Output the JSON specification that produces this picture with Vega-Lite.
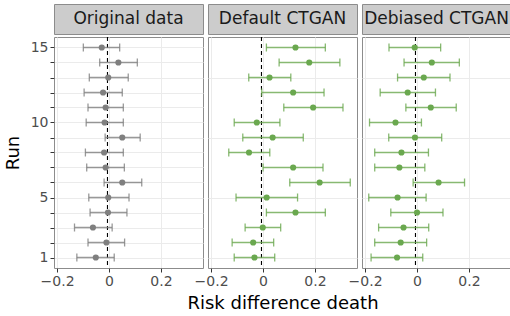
{
  "$schema": "https://vega.github.io/schema/vega-lite/v6.json",
  "padding": {"left": 3, "top": 3, "right": 0, "bottom": 0},
  "background": "white",
  "datasets": {
    "est": [
      {"p": "Original data", "run": 15, "est": -0.028, "lo": -0.099, "hi": 0.041},
      {"p": "Original data", "run": 14, "est": 0.036, "lo": -0.036, "hi": 0.109},
      {"p": "Original data", "run": 13, "est": -0.003, "lo": -0.076, "hi": 0.074},
      {"p": "Original data", "run": 12, "est": -0.023, "lo": -0.096, "hi": 0.051},
      {"p": "Original data", "run": 11, "est": -0.013, "lo": -0.081, "hi": 0.055},
      {"p": "Original data", "run": 10, "est": -0.017, "lo": -0.088, "hi": 0.055},
      {"p": "Original data", "run": 9, "est": 0.051, "lo": -0.015, "hi": 0.120},
      {"p": "Original data", "run": 8, "est": -0.019, "lo": -0.091, "hi": 0.055},
      {"p": "Original data", "run": 7, "est": -0.013, "lo": -0.086, "hi": 0.059},
      {"p": "Original data", "run": 6, "est": 0.051, "lo": -0.019, "hi": 0.126},
      {"p": "Original data", "run": 5, "est": -0.003, "lo": -0.078, "hi": 0.077},
      {"p": "Original data", "run": 4, "est": -0.004, "lo": -0.073, "hi": 0.069},
      {"p": "Original data", "run": 3, "est": -0.062, "lo": -0.133, "hi": 0.012},
      {"p": "Original data", "run": 2, "est": -0.010, "lo": -0.081, "hi": 0.060},
      {"p": "Original data", "run": 1, "est": -0.051, "lo": -0.124, "hi": 0.020},
      {"p": "Default CTGAN", "run": 15, "est": 0.125, "lo": 0.013, "hi": 0.240},
      {"p": "Default CTGAN", "run": 14, "est": 0.178, "lo": 0.062, "hi": 0.296},
      {"p": "Default CTGAN", "run": 13, "est": 0.025, "lo": -0.055, "hi": 0.107},
      {"p": "Default CTGAN", "run": 12, "est": 0.116, "lo": -0.005, "hi": 0.235},
      {"p": "Default CTGAN", "run": 11, "est": 0.193, "lo": 0.080, "hi": 0.308},
      {"p": "Default CTGAN", "run": 10, "est": -0.024, "lo": -0.111, "hi": 0.065},
      {"p": "Default CTGAN", "run": 9, "est": 0.037, "lo": -0.078, "hi": 0.155},
      {"p": "Default CTGAN", "run": 8, "est": -0.054, "lo": -0.132, "hi": 0.026},
      {"p": "Default CTGAN", "run": 7, "est": 0.116, "lo": 0.000, "hi": 0.231},
      {"p": "Default CTGAN", "run": 6, "est": 0.218, "lo": 0.103, "hi": 0.336},
      {"p": "Default CTGAN", "run": 5, "est": 0.014, "lo": -0.104, "hi": 0.133},
      {"p": "Default CTGAN", "run": 4, "est": 0.125, "lo": 0.013, "hi": 0.240},
      {"p": "Default CTGAN", "run": 3, "est": -0.001, "lo": -0.069, "hi": 0.068},
      {"p": "Default CTGAN", "run": 2, "est": -0.038, "lo": -0.119, "hi": 0.041},
      {"p": "Default CTGAN", "run": 1, "est": -0.033, "lo": -0.111, "hi": 0.045},
      {"p": "Debiased CTGAN", "run": 15, "est": -0.009, "lo": -0.108, "hi": 0.091},
      {"p": "Debiased CTGAN", "run": 14, "est": 0.057, "lo": -0.050, "hi": 0.163},
      {"p": "Debiased CTGAN", "run": 13, "est": 0.026, "lo": -0.075, "hi": 0.127},
      {"p": "Debiased CTGAN", "run": 12, "est": -0.036, "lo": -0.142, "hi": 0.071},
      {"p": "Debiased CTGAN", "run": 11, "est": 0.053, "lo": -0.043, "hi": 0.151},
      {"p": "Debiased CTGAN", "run": 10, "est": -0.083, "lo": -0.183, "hi": 0.017},
      {"p": "Debiased CTGAN", "run": 9, "est": -0.008, "lo": -0.109, "hi": 0.095},
      {"p": "Debiased CTGAN", "run": 8, "est": -0.060, "lo": -0.163, "hi": 0.044},
      {"p": "Debiased CTGAN", "run": 7, "est": -0.068, "lo": -0.163, "hi": 0.030},
      {"p": "Debiased CTGAN", "run": 6, "est": 0.083, "lo": -0.015, "hi": 0.183},
      {"p": "Debiased CTGAN", "run": 5, "est": -0.075, "lo": -0.186, "hi": 0.035},
      {"p": "Debiased CTGAN", "run": 4, "est": 0.000, "lo": -0.101, "hi": 0.100},
      {"p": "Debiased CTGAN", "run": 3, "est": -0.052, "lo": -0.148, "hi": 0.045},
      {"p": "Debiased CTGAN", "run": 2, "est": -0.063, "lo": -0.163, "hi": 0.037},
      {"p": "Debiased CTGAN", "run": 1, "est": -0.077, "lo": -0.177, "hi": 0.022}
    ],
    "ref": [{"ref": -0.006}]
  },
  "spacing": 0,
  "vconcat": [
    {
      "spacing": 5,
      "bounds": "flush",
      "hconcat": [
        {
          "width": 149, "height": 30,
          "data": {"values": [{"label": "Original data"}]},
          "view": {"fill": "#cccccc", "stroke": "#8c8c8c"},
          "mark": {"type": "text", "fontSize": 17, "font": "DejaVu Sans", "color": "#1a1a1a", "baseline": "middle", "align": "center"},
          "encoding": {"text": {"field": "label"}}
        },
        {
          "width": 149, "height": 30,
          "data": {"values": [{"label": "Default CTGAN"}]},
          "view": {"fill": "#cccccc", "stroke": "#8c8c8c"},
          "mark": {"type": "text", "fontSize": 17, "font": "DejaVu Sans", "color": "#1a1a1a", "baseline": "middle", "align": "center"},
          "encoding": {"text": {"field": "label"}}
        },
        {
          "width": 149, "height": 30,
          "data": {"values": [{"label": "Debiased CTGAN"}]},
          "view": {"fill": "#cccccc", "stroke": "#8c8c8c"},
          "mark": {"type": "text", "fontSize": 17, "font": "DejaVu Sans", "color": "#1a1a1a", "baseline": "middle", "align": "center"},
          "encoding": {"text": {"field": "label"}}
        }
      ]
    },
    {
      "spacing": 5,
      "bounds": "flush",
      "hconcat": [
        {
          "width": 149, "height": 231,
          "view": {"stroke": "#8c8c8c"},
          "layer": [
            {
              "data": {"name": "ref"},
              "mark": {"type": "rule", "color": "black", "strokeDash": [4, 3], "strokeWidth": 1.1},
              "encoding": {"x": {"field": "ref", "type": "quantitative", "title": null}}
            },
            {
              "data": {"name": "est"},
              "transform": [{"filter": "datum.p == 'Original data'"}],
              "mark": {"type": "errorbar", "opacity": 0.8, "thickness": 1.3, "ticks": {"size": 8, "thickness": 1.3}},
              "encoding": {
                "x": {"field": "lo", "type": "quantitative", "title": null},
                "x2": {"field": "hi"},
                "y": {"field": "run", "type": "quantitative", "title": "Run",
                  "axis": {"values": [1,2,3,4,5,6,7,8,9,10,11,12,13,14,15],
                    "labelExpr": "(datum.value == 1 || datum.value == 5 || datum.value == 10 || datum.value == 15) ? datum.label : ''",
                    "labelOverlap": false, "labelFlush": false, "titlePadding": 8}},
                "color": {"field": "p", "type": "nominal", "legend": null}
              }
            },
            {
              "data": {"name": "est"},
              "transform": [{"filter": "datum.p == 'Original data'"}],
              "mark": {"type": "circle", "size": 38, "opacity": 1},
              "encoding": {
                "x": {"field": "est", "type": "quantitative", "title": null,
                  "scale": {"domain": [-0.212, 0.362], "nice": false, "zero": false},
                  "axis": {"values": [-0.2, -0.1, 0, 0.1, 0.2, 0.3],
                    "labelExpr": "abs(round(datum.value*10)) % 2 == 1 ? '' : (datum.value == 0 ? '0' : replace(format(datum.value, '.1f'), '-', '\u2212'))",
                    "tickOpacity": {"condition": {"test": "abs(round(datum.value*10)) % 2 == 1", "value": 0}, "value": 1},
                    "gridColor": {"condition": {"test": "abs(round(datum.value*10)) % 2 == 1", "value": "#f5f5f5"}, "value": "#ebebeb"}}},
                "y": {"field": "run", "type": "quantitative", "title": "Run",
                  "scale": {"domain": [0.3, 15.7], "nice": false, "zero": false},
                  "axis": {"values": [1,2,3,4,5,6,7,8,9,10,11,12,13,14,15],
                    "labelExpr": "(datum.value == 1 || datum.value == 5 || datum.value == 10 || datum.value == 15) ? datum.label : ''",
                    "labelOverlap": false, "labelFlush": false, "titlePadding": 8}},
                "color": {"field": "p", "type": "nominal", "legend": null,
                  "scale": {"domain": ["Original data", "Default CTGAN", "Debiased CTGAN"], "range": ["#7f7f7f", "#6aa84f", "#6aa84f"]}}
              }
            }
          ]
        },
        {
          "width": 149, "height": 231,
          "view": {"stroke": "#8c8c8c"},
          "layer": [
            {
              "data": {"name": "ref"},
              "mark": {"type": "rule", "color": "black", "strokeDash": [4, 3], "strokeWidth": 1.1},
              "encoding": {"x": {"field": "ref", "type": "quantitative", "title": "Risk difference death"}}
            },
            {
              "data": {"name": "est"},
              "transform": [{"filter": "datum.p == 'Default CTGAN'"}],
              "mark": {"type": "errorbar", "opacity": 0.8, "thickness": 1.3, "ticks": {"size": 8, "thickness": 1.3}},
              "encoding": {
                "x": {"field": "lo", "type": "quantitative", "title": "Risk difference death"},
                "x2": {"field": "hi"},
                "y": {"field": "run", "type": "quantitative", "title": null},
                "color": {"field": "p", "type": "nominal", "legend": null}
              }
            },
            {
              "data": {"name": "est"},
              "transform": [{"filter": "datum.p == 'Default CTGAN'"}],
              "mark": {"type": "circle", "size": 38, "opacity": 1},
              "encoding": {
                "x": {"field": "est", "type": "quantitative", "title": "Risk difference death",
                  "scale": {"domain": [-0.212, 0.362], "nice": false, "zero": false},
                  "axis": {"values": [-0.2, -0.1, 0, 0.1, 0.2, 0.3], "titlePadding": 6,
                    "labelExpr": "abs(round(datum.value*10)) % 2 == 1 ? '' : (datum.value == 0 ? '0' : replace(format(datum.value, '.1f'), '-', '\u2212'))",
                    "tickOpacity": {"condition": {"test": "abs(round(datum.value*10)) % 2 == 1", "value": 0}, "value": 1},
                    "gridColor": {"condition": {"test": "abs(round(datum.value*10)) % 2 == 1", "value": "#f5f5f5"}, "value": "#ebebeb"}}},
                "y": {"field": "run", "type": "quantitative", "title": null,
                  "scale": {"domain": [0.3, 15.7], "nice": false, "zero": false},
                  "axis": {"values": [1,2,3,4,5,6,7,8,9,10,11,12,13,14,15],
                    "labels": false, "ticks": false, "minExtent": 0, "maxExtent": 0}},
                "color": {"field": "p", "type": "nominal", "legend": null,
                  "scale": {"domain": ["Original data", "Default CTGAN", "Debiased CTGAN"], "range": ["#7f7f7f", "#6aa84f", "#6aa84f"]}}
              }
            }
          ]
        },
        {
          "width": 149, "height": 231,
          "view": {"stroke": "#8c8c8c"},
          "layer": [
            {
              "data": {"name": "ref"},
              "mark": {"type": "rule", "color": "black", "strokeDash": [4, 3], "strokeWidth": 1.1},
              "encoding": {"x": {"field": "ref", "type": "quantitative", "title": null}}
            },
            {
              "data": {"name": "est"},
              "transform": [{"filter": "datum.p == 'Debiased CTGAN'"}],
              "mark": {"type": "errorbar", "opacity": 0.8, "thickness": 1.3, "ticks": {"size": 8, "thickness": 1.3}},
              "encoding": {
                "x": {"field": "lo", "type": "quantitative", "title": null},
                "x2": {"field": "hi"},
                "y": {"field": "run", "type": "quantitative", "title": null},
                "color": {"field": "p", "type": "nominal", "legend": null}
              }
            },
            {
              "data": {"name": "est"},
              "transform": [{"filter": "datum.p == 'Debiased CTGAN'"}],
              "mark": {"type": "circle", "size": 38, "opacity": 1},
              "encoding": {
                "x": {"field": "est", "type": "quantitative", "title": null,
                  "scale": {"domain": [-0.212, 0.362], "nice": false, "zero": false},
                  "axis": {"values": [-0.2, -0.1, 0, 0.1, 0.2, 0.3],
                    "labelExpr": "abs(round(datum.value*10)) % 2 == 1 ? '' : (datum.value == 0 ? '0' : replace(format(datum.value, '.1f'), '-', '\u2212'))",
                    "tickOpacity": {"condition": {"test": "abs(round(datum.value*10)) % 2 == 1", "value": 0}, "value": 1},
                    "gridColor": {"condition": {"test": "abs(round(datum.value*10)) % 2 == 1", "value": "#f5f5f5"}, "value": "#ebebeb"}}},
                "y": {"field": "run", "type": "quantitative", "title": null,
                  "scale": {"domain": [0.3, 15.7], "nice": false, "zero": false},
                  "axis": {"values": [1,2,3,4,5,6,7,8,9,10,11,12,13,14,15],
                    "labels": false, "ticks": false, "minExtent": 0, "maxExtent": 0}},
                "color": {"field": "p", "type": "nominal", "legend": null,
                  "scale": {"domain": ["Original data", "Default CTGAN", "Debiased CTGAN"], "range": ["#7f7f7f", "#6aa84f", "#6aa84f"]}}
              }
            }
          ]
        }
      ]
    }
  ],
  "resolve": {"scale": {"color": "shared"}},
  "config": {
    "font": "DejaVu Sans",
    "view": {"stroke": "#8c8c8c"},
    "axis": {
      "labelFont": "DejaVu Sans", "labelFontSize": 14, "labelColor": "#4d4d4d",
      "tickColor": "#333333", "tickSize": 4, "labelPadding": 2,
      "domain": false, "gridColor": "#ebebeb", "gridWidth": 1,
      "titleFont": "DejaVu Sans", "titleFontSize": 18, "titleFontWeight": "normal", "titleColor": "#000000",
      "labelFlush": false, "labelOverlap": false, "titlePadding": 4
    },
    "axisY": {"labelOverlap": false}
  }
}
